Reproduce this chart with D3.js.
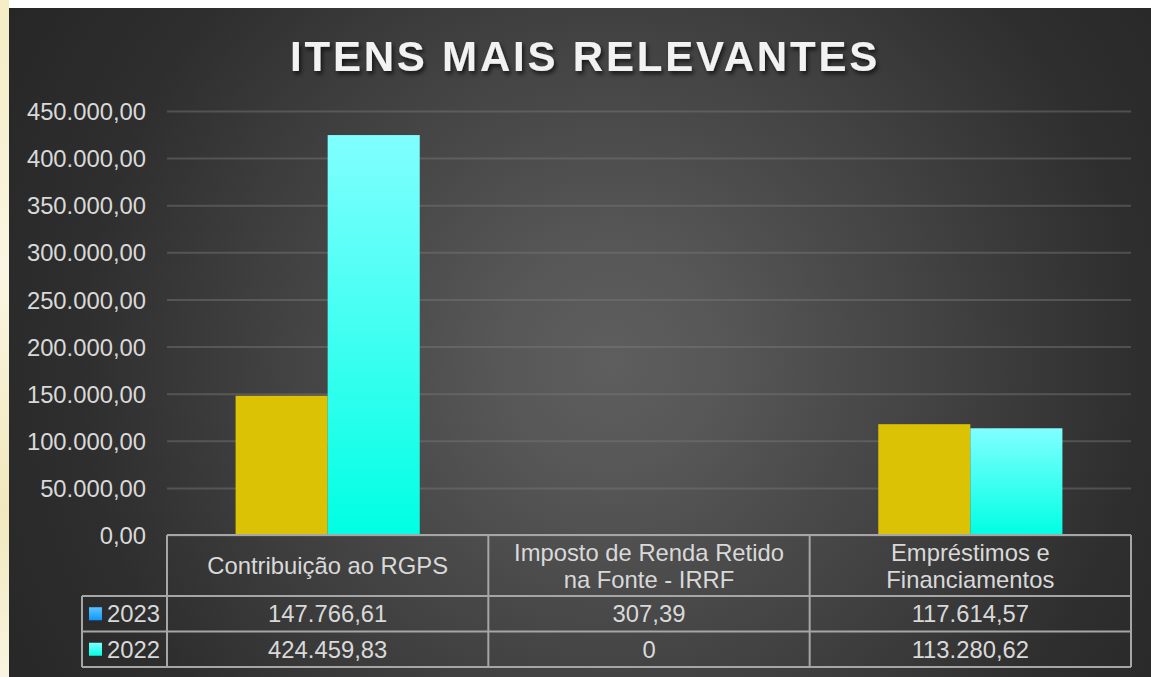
<!DOCTYPE html>
<html>
<head>
<meta charset="utf-8">
<script src="https://cdn.jsdelivr.net/npm/d3@7"></script>
<style>
  body { margin: 0; background: #ffffff; }
  svg { display: block; font-family: "Liberation Sans", Arial, sans-serif; }
</style>
</head>
<body>
<div id="chart"></div>
<script>
const categories = ["Contribuição ao RGPS", "Imposto de Renda Retido na Fonte - IRRF", "Empréstimos e Financiamentos"];
const years = ["2023", "2022"];
const values2023 = [147766.61, 307.39, 117614.57];
const values2022 = [424459.83, 0, 113280.62];
const yTicks = [0, 50000, 100000, 150000, 200000, 250000, 300000, 350000, 400000, 450000];
const title = "ITENS MAIS RELEVANTES";

const series = [
    { year: years[0], values: values2023 },
    { year: years[1], values: values2022 }
];

const W = 1151, H = 677;
const frame = { x: 9, y: 8 };
const plot = { left: 167, right: 1131, top: 111, bottom: 535 };
const headerH = 61, rowH = 35.5, legendLeft = 82;
const fontSize = 23.8;
const txt = '#d9d9d9', lineCol = '#a6a6a6';

const ptBR = d3.formatLocale({ decimal: ',', thousands: '.', grouping: [3], currency: ['R$', ''] });
const fmt = ptBR.format(',.2f');
const cellFmt = (v) => v === 0 ? '0' : fmt(v);

const svg = d3.select('#chart').append('svg').attr('width', W).attr('height', H);
const defs = svg.append('defs');

// left page strip behind the chart
const strip = defs.append('linearGradient').attr('id', 'strip').attr('x1', 0).attr('y1', 0).attr('x2', 0).attr('y2', 1);
strip.append('stop').attr('offset', 0).attr('stop-color', '#f3ecc4');
strip.append('stop').attr('offset', 0.4).attr('stop-color', '#faf6e2');
strip.append('stop').attr('offset', 0.75).attr('stop-color', '#f1e8bd');
strip.append('stop').attr('offset', 1).attr('stop-color', '#f8f4e0');
svg.append('rect').attr('x', 0).attr('y', 0).attr('width', frame.x).attr('height', H).attr('fill', 'url(#strip)');

// chart background
const bg = defs.append('radialGradient').attr('id', 'bg').attr('gradientUnits', 'userSpaceOnUse')
    .attr('cx', 610).attr('cy', 360).attr('r', 700);
[[0, '#5e5e5e'], [0.16, '#575757'], [0.36, '#494949'], [0.44, '#444444'], [0.76, '#2e2e2e'], [0.98, '#272727'], [1, '#262626']]
    .forEach(([o, c]) => bg.append('stop').attr('offset', o).attr('stop-color', c));
svg.append('rect').attr('x', frame.x).attr('y', frame.y).attr('width', W - frame.x).attr('height', H - frame.y).attr('fill', 'url(#bg)');

const grad = (id, top, bottom) => {
    const g = defs.append('linearGradient').attr('id', id).attr('x1', 0).attr('y1', 0).attr('x2', 0).attr('y2', 1);
    g.append('stop').attr('offset', 0).attr('stop-color', top);
    g.append('stop').attr('offset', 1).attr('stop-color', bottom);
};
grad('cyan', '#80ffff', '#00ffe3');
grad('blue', '#5cc4ff', '#0e98ff');

const shadow = defs.append('filter').attr('id', 'shadow').attr('x', '-5%').attr('y', '-30%').attr('width', '110%').attr('height', '160%');
shadow.append('feDropShadow').attr('dx', 2).attr('dy', 3).attr('stdDeviation', 2)
    .attr('flood-color', '#000').attr('flood-opacity', 0.65);

const barFill = { '2023': '#dbc205', '2022': 'url(#cyan)' };
const keyFill = { '2023': 'url(#blue)', '2022': 'url(#cyan)' };

// title
svg.append('text')
    .attr('x', 585).attr('y', 71)
    .attr('text-anchor', 'middle')
    .attr('fill', '#f2f2f2')
    .attr('font-weight', 'bold')
    .attr('font-size', 42)
    .attr('letter-spacing', 2.8)
    .attr('filter', 'url(#shadow)')
    .text(title);

const x0 = d3.scaleBand().domain(categories).range([plot.left, plot.right]);
const x1 = d3.scaleBand().domain(years).range([0, x0.bandwidth()]).paddingOuter(0.745);
const y = d3.scaleLinear().domain([0, 450000]).range([plot.bottom, plot.top]);

// gridlines
svg.append('g').attr('transform', `translate(${plot.left},0)`)
    .call(d3.axisLeft(y).tickValues(yTicks).tickSize(-(plot.right - plot.left)).tickFormat(''))
    .call((s) => s.select('.domain').remove())
    .call((s) => s.selectAll('line').attr('stroke', '#7a7a7a').attr('stroke-opacity', 0.45).attr('stroke-width', 2));

// y labels
svg.append('g').attr('transform', `translate(${plot.left},0)`)
    .call(d3.axisLeft(y).tickValues(yTicks).tickSize(0).tickPadding(21).tickFormat(fmt))
    .call((s) => s.select('.domain').remove())
    .call((s) => s.selectAll('text').attr('fill', txt).attr('font-size', fontSize)
        .attr('font-family', '"Liberation Sans", Arial, sans-serif').attr('dy', '0.36em'));

// bars
const groups = svg.append('g').selectAll('g').data(categories).join('g')
    .attr('transform', (d) => `translate(${x0(d)},0)`);
groups.selectAll('rect')
    .data((d, i) => series.map((s) => ({ year: s.year, value: s.values[i] })))
    .join('rect')
    .attr('x', (d) => x1(d.year))
    .attr('y', (d) => y(d.value))
    .attr('width', x1.bandwidth())
    .attr('height', (d) => Math.max(0, y(0) - y(d.value)))
    .attr('fill', (d) => barFill[d.year]);

// data table
const table = svg.append('g');
const tBottom = plot.bottom + headerH + rowH * series.length;
const line = (xa, ya, xb, yb) => table.append('line')
    .attr('x1', xa).attr('y1', ya).attr('x2', xb).attr('y2', yb)
    .attr('stroke', lineCol).attr('stroke-width', 2);

line(plot.left, plot.bottom, plot.right, plot.bottom);
series.forEach((s, i) => {
    const yy = plot.bottom + headerH + rowH * i;
    line(legendLeft, yy, plot.right, yy);
});
line(legendLeft, tBottom, plot.right, tBottom);
line(legendLeft, plot.bottom + headerH, legendLeft, tBottom);
categories.forEach((c) => line(x0(c), plot.bottom, x0(c), tBottom));
line(plot.right, plot.bottom, plot.right, tBottom);

// header labels with wrapping
const header = table.selectAll('text.cat').data(categories).join('text')
    .attr('class', 'cat')
    .attr('text-anchor', 'middle')
    .attr('fill', txt)
    .attr('font-size', fontSize);
header.each(function (d) {
    const el = d3.select(this);
    const cx = x0(d) + x0.bandwidth() / 2;
    const words = d.split(' ');
    const lines = [];
    let cur = [];
    const probe = el.append('tspan');
    words.forEach((w) => {
        probe.text([...cur, w].join(' '));
        if (cur.length && probe.node().getComputedTextLength() > 290) {
            lines.push(cur.join(' '));
            cur = [w];
        } else cur.push(w);
    });
    lines.push(cur.join(' '));
    probe.remove();
    const mid = plot.bottom + headerH / 2;
    const lh = 27;
    lines.forEach((l, k) => {
        el.append('tspan').attr('x', cx)
            .attr('y', mid + (k - (lines.length - 1) / 2) * lh)
            .attr('dy', '0.36em')
            .text(l);
    });
});

// value rows + legend keys
series.forEach((s, i) => {
    const cy = plot.bottom + headerH + rowH * i + rowH / 2;
    table.append('rect').attr('x', 89).attr('y', cy - 6.5).attr('width', 13).attr('height', 13)
        .attr('fill', keyFill[s.year]);
    table.append('text').attr('x', 107).attr('y', cy).attr('dy', '0.36em')
        .attr('fill', txt).attr('font-size', fontSize).text(s.year);
    table.selectAll(null).data(s.values).join('text')
        .attr('x', (d, j) => x0(categories[j]) + x0.bandwidth() / 2)
        .attr('y', cy).attr('dy', '0.36em')
        .attr('text-anchor', 'middle')
        .attr('fill', txt).attr('font-size', fontSize)
        .text(cellFmt);
});
</script>
</body>
</html>
